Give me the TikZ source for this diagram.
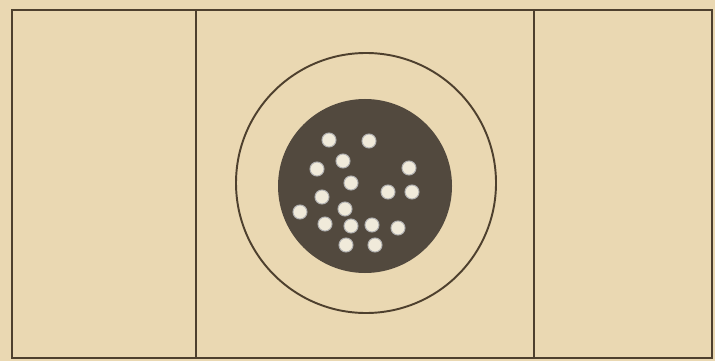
\documentclass[tikz,border=0pt]{standalone}
\definecolor{PaperBeige}{RGB}{234,216,178}
\definecolor{InkBrown}{RGB}{78,64,46}
\definecolor{DiskGrey}{RGB}{82,73,62}
\definecolor{HoleWhite}{RGB}{240,234,218}
\usepackage{tikz}
\usetikzlibrary{positioning}

\begin{document}
\begin{tikzpicture}[x=0.02cm,y=-0.02cm]
\fill[PaperBeige] (0,0) rectangle (715,361);
\useasboundingbox (0,0) rectangle (715,361);
\coordinate (c) at (366,183);
\draw[InkBrown,line width=1.2pt] (12,10) rectangle (712,358);
\draw[InkBrown,line width=1.2pt] (196,10)--(196,358);
\draw[InkBrown,line width=1.2pt] (534,10)--(534,358);
\draw[InkBrown,line width=1.1pt] (c) circle (130);
\fill[DiskGrey] (365,186) circle (87);
\foreach \x/\y in {329/140,369/141,343/161,317/169,409/168,351/183,388/192,
	412/192,322/197,345/209,300/212,325/224,351/226,372/225,398/228,346/245,375/245}{
	\fill[HoleWhite,draw=gray!60,line width=0.6pt] (\x,\y) circle (7);
}
\end{tikzpicture}
\end{document}
